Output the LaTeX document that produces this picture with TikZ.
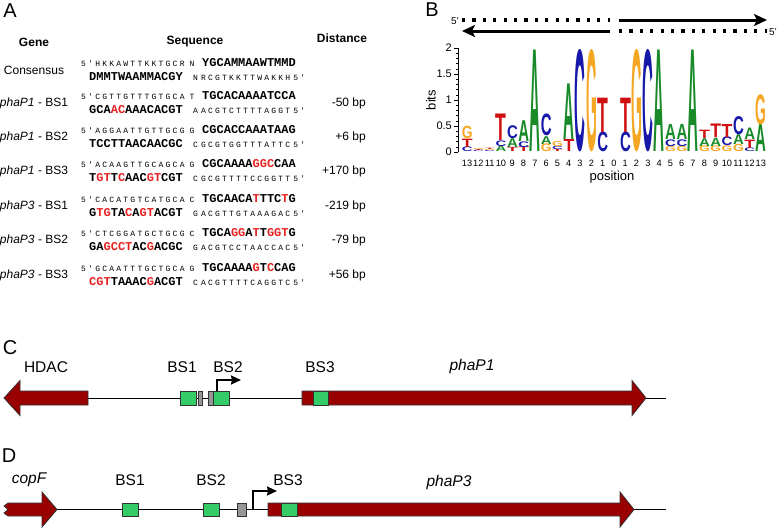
\documentclass[tikz,border=0pt]{standalone}
\usepackage{fontspec}
\usepackage{graphicx}
\setmainfont{Liberation Sans}
\newfontfamily\smallmono{Liberation Mono}[LetterSpace=28]
\newfontfamily\bigmono{Liberation Mono}
\usetikzlibrary{arrows.meta}
\definecolor{seqred}{RGB}{232,32,32}
\definecolor{genered}{RGB}{153,0,0}
\definecolor{bsgreen}{RGB}{51,204,102}
\definecolor{bsgrey}{RGB}{150,150,150}
\definecolor{lgA}{RGB}{24,138,40}
\definecolor{lgC}{RGB}{24,24,170}
\definecolor{lgG}{RGB}{245,166,35}
\definecolor{lgT}{RGB}{208,16,16}
\newcommand{\rd}[1]{\textcolor{seqred}{#1}}
\newcommand{\seqrow}[8]{%
  \node[genelab] (#2-g) at (34,#1) {#3};
  \node[smallseq] (#2-a) at (81,#1-3.5) {#4};
  \node[bigseq] (#2-b) at (202,#1-3.5) {#5};
  \node[bigseq] (#2-c) at (89,#1+10) {#6};
  \node[smallseq] (#2-d) at (193,#1+10) {#7};
  \node[distlab] (#2-e) at (366,#1) {#8};
}
\newcommand{\lgl}[5]{%
  \pgfmathsetmacro\lgh{52*(#3-#2)}%
  \pgfmathsetmacro\lgx{467+11.3*#1-5.4}%
  \pgfmathsetmacro\lgy{152-52*#2}%
  \node[anchor=south west, text=#5] (lg#1#4) at (\lgx,\lgy) {\resizebox*{10.8pt}{\lgh pt}{\bfseries #4}};%
}
\begin{document}
\begin{tikzpicture}[x=1pt,y=-1pt,
  every node/.style={inner sep=0pt},
  panellab/.style={font=\fontsize{20}{22}\selectfont},
  header/.style={font=\fontsize{12}{14}\selectfont\bfseries},
  genelab/.style={font=\fontsize{12}{14}\selectfont},
  smallseq/.style={anchor=base west, font=\smallmono\fontsize{8}{9}\selectfont},
  bigseq/.style={anchor=base west, font=\bigmono\fontsize{12}{14}\selectfont\bfseries},
  distlab/.style={anchor=east, font=\fontsize{12}{14}\selectfont},
  axlab/.style={font=\fontsize{11}{12}\selectfont},
  poslab/.style={font=\fontsize{9.2}{10}\selectfont},
  dotline/.style={line width=3.2pt, dash pattern=on 3.2pt off 7.2pt},
  solidarrow/.style={line width=3pt, -{Stealth[length=13pt,width=12pt,inset=3pt]}},
  geneshape/.style={draw=black!80, line width=0.8pt, fill=genered},
  bsbox/.style={draw=black!80, line width=0.8pt, fill=bsgreen},
  greybox/.style={draw=black!80, line width=0.8pt, fill=bsgrey},
  tss/.style={line width=2pt, -{Stealth[length=10pt,width=9pt,inset=1pt]}},
  maplab/.style={font=\fontsize{15.5}{17}\selectfont},
]
\useasboundingbox (0,0) rectangle (778,528);

% ---------------- Panel A ----------------
\node[panellab] (pA) at (10,11) {A};
\node[header] (hGene) at (34,42) {Gene};
\node[header] (hSeq) at (195,42) {Sequence};
\node[header] (hDist) at (342,38) {Distance};

\seqrow{70}{r0}{Consensus}{5'HKKAWTTKKTGCR\hspace{5pt}N}{YGCAMMAAWTMMD}{DMMTWAAMMACGY}{N\hspace{3pt}RCGTKKTTWAKKH\hspace{3pt}5'}{}
\seqrow{103}{r1}{\textit{phaP1} - BS1}{5'CGTTGTTTGTGCA\hspace{5pt}T}{TGCACAAAATCCA}{GCA\rd{AC}AAACACGT}{A\hspace{3pt}ACGTCTTTTAGGT\hspace{3pt}5'}{-50 bp}
\seqrow{137}{r2}{\textit{phaP1} - BS2}{5'AGGAATTGTTGCG\hspace{5pt}G}{CGCACCAAATAAG}{TCCTTAACAACGC}{C\hspace{3pt}GCGTGGTTTATTC\hspace{3pt}5'}{+6 bp}
\seqrow{171}{r3}{\textit{phaP1} - BS3}{5'ACAAGTTGCAGCA\hspace{5pt}G}{CGCAAAA\rd{GGC}CAA}{T\rd{GT}T\rd{C}AAC\rd{GT}CGT}{C\hspace{3pt}GCGTTTTCCGGTT\hspace{3pt}5'}{+170 bp}
\seqrow{206}{r4}{\textit{phaP3} - BS1}{5'CACATGTCATGCA\hspace{5pt}C}{TGCAACA\rd{T}TTC\rd{T}G}{G\rd{TG}TA\rd{C}A\rd{GT}ACGT}{G\hspace{3pt}ACGTTGTAAAGAC\hspace{3pt}5'}{-219 bp}
\seqrow{240}{r5}{\textit{phaP3} - BS2}{5'CTCGGATGCTGCG\hspace{5pt}C}{TGCA\rd{GG}A\rd{T}T\rd{GGT}G}{GA\rd{GCCT}AC\rd{G}ACGC}{G\hspace{3pt}ACGTCCTAACCAC\hspace{3pt}5'}{-79 bp}
\seqrow{275}{r6}{\textit{phaP3} - BS3}{5'GCAATTTGCTGCA\hspace{5pt}G}{TGCAAAA\rd{G}T\rd{C}CAG}{\rd{CGT}TAAAC\rd{G}ACGT}{C\hspace{3pt}ACGTTTTCAGGTC\hspace{3pt}5'}{+56 bp}

% ---------------- Panel B ----------------
\node[panellab] (pB) at (432,10) {B};
\coordinate (t1a) at (462,20); \coordinate (t1b) at (610,20);
\coordinate (t2a) at (619,20); \coordinate (t2b) at (767,20);
\coordinate (b1a) at (610,31); \coordinate (b1b) at (462,31);
\coordinate (b2a) at (619,31); \coordinate (b2b) at (767,31);
\draw[dotline] (t1a) -- (t1b);
\draw[solidarrow] (t2a) -- (t2b);
\draw[solidarrow] (b1a) -- (b1b);
\draw[dotline] (b2a) -- (b2b);
\node[font=\fontsize{10}{11}\selectfont] (p5a) at (455,21) {5'};
\node[font=\fontsize{10}{11}\selectfont] (p5b) at (773,32) {5'};

% axis
\draw[line width=0.6pt] (458,48) -- (458,152);
\foreach \k in {0,...,20} {\draw[line width=0.5pt] (458,152-5.2*\k) -- (456,152-5.2*\k);}
\foreach \k/\t in {0/0,1/0.5,2/1,3/1.5,4/2} {
  \draw[line width=0.6pt] (458,152-26*\k) -- (454,152-26*\k);
  \node[axlab, anchor=east] (yt\k) at (452,152-26*\k) {\t};
}
\node[font=\fontsize{13}{14}\selectfont, rotate=90] (bits) at (431,100) {bits};
\foreach \i in {0,...,26} {
  \pgfmathtruncatemacro\lab{abs(13-\i)}
  \node[poslab] (pos\i) at (467+11.3*\i,163) {\lab};
}
\node[font=\fontsize{13}{14}\selectfont] (poslabel) at (612,177) {position};

% logo letters: column, bottom, top, letter, colour
\lgl{0}{0}{0.09}{C}{lgC}\lgl{0}{0.09}{0.25}{T}{lgT}\lgl{0}{0.25}{0.49}{G}{lgG}
\lgl{1}{0}{0.025}{C}{lgC}\lgl{1}{0.025}{0.045}{T}{lgT}\lgl{1}{0.045}{0.065}{G}{lgG}
\lgl{2}{0}{0.02}{C}{lgC}\lgl{2}{0.02}{0.045}{G}{lgG}\lgl{2}{0.045}{0.07}{T}{lgT}
\lgl{3}{0}{0.11}{A}{lgA}\lgl{3}{0.11}{0.22}{C}{lgC}\lgl{3}{0.22}{0.73}{T}{lgT}
\lgl{4}{0}{0.08}{T}{lgT}\lgl{4}{0.08}{0.25}{A}{lgA}\lgl{4}{0.25}{0.5}{C}{lgC}
\lgl{5}{0}{0.09}{T}{lgT}\lgl{5}{0.09}{0.2}{C}{lgC}\lgl{5}{0.2}{0.6}{A}{lgA}
\lgl{6}{0}{1.95}{A}{lgA}
\lgl{7}{0}{0.15}{G}{lgG}\lgl{7}{0.15}{0.3}{A}{lgA}\lgl{7}{0.3}{0.72}{C}{lgC}
\lgl{8}{0}{0.04}{T}{lgT}\lgl{8}{0.04}{0.1}{C}{lgC}\lgl{8}{0.1}{0.2}{G}{lgG}
\lgl{9}{0}{0.23}{T}{lgT}\lgl{9}{0.23}{1.3}{A}{lgA}
\lgl{10}{0}{1.97}{C}{lgC}
\lgl{11}{0}{1.97}{G}{lgG}
\lgl{12}{0}{0.38}{C}{lgC}\lgl{12}{0.38}{1.04}{T}{lgT}
\lgl{14}{0}{0.38}{C}{lgC}\lgl{14}{0.38}{1.04}{T}{lgT}
\lgl{15}{0}{1.97}{G}{lgG}
\lgl{16}{0}{1.97}{C}{lgC}
\lgl{17}{0}{1.95}{A}{lgA}
\lgl{18}{0}{0.1}{G}{lgG}\lgl{18}{0.1}{0.23}{C}{lgC}\lgl{18}{0.23}{0.52}{A}{lgA}
\lgl{19}{0}{0.1}{G}{lgG}\lgl{19}{0.1}{0.23}{C}{lgC}\lgl{19}{0.23}{0.52}{A}{lgA}
\lgl{20}{0}{1.95}{A}{lgA}
\lgl{21}{0}{0.11}{G}{lgG}\lgl{21}{0.11}{0.26}{A}{lgA}\lgl{21}{0.26}{0.42}{T}{lgT}
\lgl{22}{0}{0.11}{G}{lgG}\lgl{22}{0.11}{0.27}{A}{lgA}\lgl{22}{0.27}{0.53}{T}{lgT}
\lgl{23}{0}{0.11}{G}{lgG}\lgl{23}{0.11}{0.28}{C}{lgC}\lgl{23}{0.28}{0.53}{T}{lgT}
\lgl{24}{0}{0.14}{G}{lgG}\lgl{24}{0.14}{0.33}{A}{lgA}\lgl{24}{0.33}{0.68}{C}{lgC}
\lgl{25}{0}{0.07}{C}{lgC}\lgl{25}{0.07}{0.23}{T}{lgT}\lgl{25}{0.23}{0.45}{A}{lgA}
\lgl{26}{0}{0.52}{A}{lgA}\lgl{26}{0.52}{1.1}{G}{lgG}

% ---------------- Panel C ----------------
\node[panellab] (pC) at (10,348) {C};
\coordinate (cL) at (88,398); \coordinate (cR) at (666,398);
\draw[line width=0.9pt] (cL) -- (cR);
\draw[geneshape] (88,391) -- (20,391) -- (20,380.5) -- (4,398) -- (20,415.5) -- (20,405) -- (88,405) -- cycle;
\draw[geneshape] (302,391) -- (632,391) -- (632,380.5) -- (646,398) -- (632,415.5) -- (632,405) -- (302,405) -- cycle;
\draw[bsbox] (180,391) rectangle (196,405);
\draw[greybox] (198,391) rectangle (202,405);
\draw[greybox] (208,391) rectangle (213,405);
\draw[bsbox] (213,391) rectangle (229,405);
\draw[bsbox] (313,391) rectangle (328,405);
\coordinate (ctss0) at (217,391); \coordinate (ctss1) at (217,380); \coordinate (ctss2) at (241,380);
\draw[tss] (ctss0) -- (ctss1) -- (ctss2);
\node[maplab] (cHDAC) at (46,367) {HDAC};
\node[maplab] (cBS1) at (182,367) {BS1};
\node[maplab] (cBS2) at (228,367) {BS2};
\node[maplab] (cBS3) at (320,367) {BS3};
\node[maplab] (cP1) at (472,366) {\itshape phaP1};

% ---------------- Panel D ----------------
\node[panellab] (pD) at (9,456) {D};
\coordinate (dL) at (57,509.5); \coordinate (dR) at (666,509.5);
\draw[line width=0.9pt] (dL) -- (dR);
\draw[geneshape] (8,503) -- (42,503) -- (42,492) -- (57,509.5) -- (42,527) -- (42,516) -- (8,516) -- (4,513) -- (8,509.5) -- (4,506) -- cycle;
\draw[geneshape] (268,503) -- (620,503) -- (620,492) -- (634,509.5) -- (620,527) -- (620,516) -- (268,516) -- cycle;
\draw[bsbox] (122,503) rectangle (138,516);
\draw[bsbox] (203,503) rectangle (219,516);
\draw[greybox] (237,503) rectangle (246,516);
\draw[bsbox] (281,503) rectangle (297,516);
\coordinate (dtss0) at (253,509.5); \coordinate (dtss1) at (253,491); \coordinate (dtss2) at (277,491);
\draw[tss] (dtss0) -- (dtss1) -- (dtss2);
\node[maplab] (dcopF) at (29,480) {\itshape copF};
\node[maplab] (dBS1) at (130,480) {BS1};
\node[maplab] (dBS2) at (211,480) {BS2};
\node[maplab] (dBS3) at (288,480) {BS3};
\node[maplab] (dP3) at (449,482) {\itshape phaP3};
\end{tikzpicture}
\end{document}
